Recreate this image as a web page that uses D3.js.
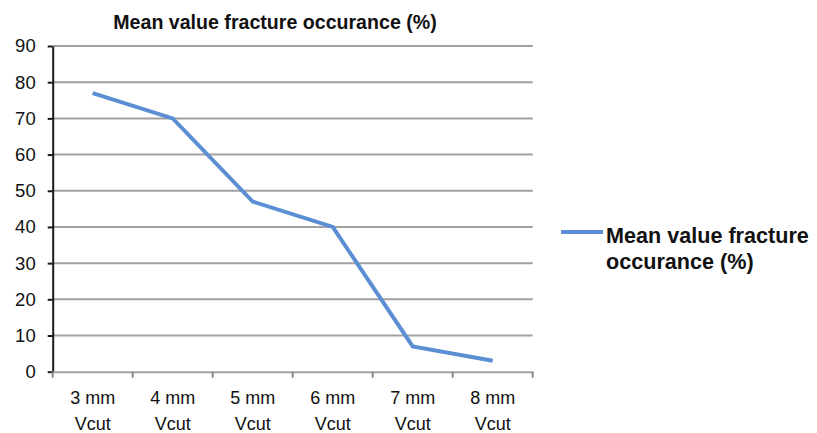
<!DOCTYPE html>
<html>
<head>
<meta charset="utf-8">
<script src="https://cdn.jsdelivr.net/npm/d3@7"></script>
<style>
  html, body { margin: 0; padding: 0; background: #ffffff; }
  svg { display: block; }
  text { font-family: "Liberation Sans", Arial, Helvetica, sans-serif; fill: #111; }
</style>
</head>
<body>
<svg id="chart" width="817" height="433"></svg>
<script>
const categories = ["3 mm Vcut", "4 mm Vcut", "5 mm Vcut", "6 mm Vcut", "7 mm Vcut", "8 mm Vcut"];
const seriesName = "Mean value fracture occurance (%)";
const values = [77, 70, 47, 40, 7, 3];
const yTicks = [0, 10, 20, 30, 40, 50, 60, 70, 80, 90];
const titleText = "Mean value fracture occurance (%)";
const legendLines = ["Mean value fracture", "occurance (%)"];

const svg = d3.select("#chart");
const margin = { left: 52.7, right: 817 - 532.7, top: 46, bottom: 433 - 371.7 };
const W = 817, H = 433;

const x = d3.scaleBand().domain(categories).range([margin.left, W - margin.right]).paddingInner(0).paddingOuter(0);
const y = d3.scaleLinear().domain([0, 90]).range([H - margin.bottom, margin.top]);

// gridlines
svg.append("g")
  .selectAll("line")
  .data(yTicks.filter(d => d > 0))
  .join("line")
  .attr("x1", margin.left).attr("x2", W - margin.right)
  .attr("y1", d => y(d)).attr("y2", d => y(d))
  .attr("stroke", "#a3a0a0").attr("stroke-width", 2);

// y axis
const yAxis = svg.append("g")
  .attr("transform", `translate(${margin.left},0)`)
  .call(d3.axisLeft(y).tickValues(yTicks).tickSize(5).tickPadding(12).tickSizeOuter(0));
yAxis.select(".domain").attr("stroke", "#1a1a1a").attr("stroke-width", 2);
yAxis.selectAll(".tick line").attr("stroke", "#1a1a1a").attr("stroke-width", 2);
yAxis.selectAll(".tick text").attr("font-size", 18.5).attr("fill", "#111").attr("font-family", "Liberation Sans, Arial, sans-serif");

// x axis
const xAxis = svg.append("g")
  .attr("transform", `translate(0,${y(0)})`)
  .call(d3.axisBottom(x).tickSize(0).tickFormat(""));
xAxis.select(".domain").attr("stroke", "#a3a0a0").attr("stroke-width", 2);
xAxis.selectAll(".tick").remove();
// boundary tick marks
const boundaries = categories.map(c => x(c)).concat([x(categories[categories.length - 1]) + x.bandwidth()]);
svg.append("g").selectAll("line").data(boundaries).join("line")
  .attr("x1", d => d).attr("x2", d => d)
  .attr("y1", y(0)).attr("y2", y(0) + 6)
  .attr("stroke", "#8a8888").attr("stroke-width", 2);

// category labels
const catG = svg.append("g");
categories.forEach(c => {
  const parts = [c.replace(" Vcut", ""), "Vcut"];
  const t = catG.append("text")
    .attr("x", x(c) + x.bandwidth() / 2)
    .attr("y", 403.5)
    .attr("text-anchor", "middle")
    .attr("font-size", 18);
  parts.forEach((p, i) => {
    t.append("tspan").attr("x", x(c) + x.bandwidth() / 2).attr("dy", i === 0 ? 0 : 26).text(p);
  });
});

// line
const line = d3.line()
  .x((d, i) => x(categories[i]) + x.bandwidth() / 2)
  .y(d => y(d));
svg.append("path")
  .datum(values)
  .attr("d", line)
  .attr("fill", "none")
  .attr("stroke", "#5b8ed2")
  .attr("stroke-width", 4)
  .attr("stroke-linejoin", "miter");

// title
svg.append("text")
  .attr("x", 275)
  .attr("y", 28.5)
  .attr("text-anchor", "middle")
  .attr("font-size", 19.6)
  .attr("font-weight", "bold")
  .text(titleText);

// legend
const lg = svg.append("g");
lg.append("line")
  .attr("x1", 561).attr("x2", 603)
  .attr("y1", 232).attr("y2", 232)
  .attr("stroke", "#5b8ed2").attr("stroke-width", 4);
const lt = lg.append("text")
  .attr("x", 606).attr("y", 243)
  .attr("font-size", 21.6)
  .attr("font-weight", "bold");
legendLines.forEach((l, i) => {
  lt.append("tspan").attr("x", 606).attr("dy", i === 0 ? 0 : 25.5).text(l);
});
</script>
</body>
</html>
